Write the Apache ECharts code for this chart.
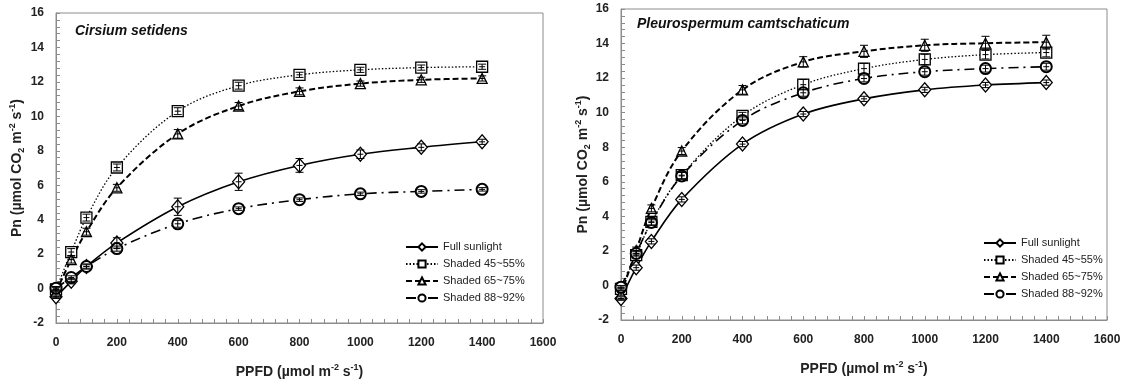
<!DOCTYPE html>
<html>
<head>
<meta charset="utf-8">
<script src="https://cdn.jsdelivr.net/npm/echarts@6/dist/echarts.min.js"></script>
<style>
  html, body { margin: 0; padding: 0; background: #fff; }
  #chart { width: 1127px; height: 387px; }
</style>
</head>
<body>
<div id="chart"></div>
<script>
const ppfd = [0, 50, 100, 200, 400, 600, 800, 1000, 1200, 1400];
const names = ['Full sunlight', 'Shaded 45~55%', 'Shaded 65~75%', 'Shaded 88~92%'];
const xTicks = [0, 200, 400, 600, 800, 1000, 1200, 1400, 1600];
const yTicks = [-2, 0, 2, 4, 6, 8, 10, 12, 14, 16];

// Cirsium setidens
const fullL = [-0.48, 0.42, 1.28, 2.65, 4.75, 6.2, 7.15, 7.8, 8.2, 8.52];
const s45L = [-0.05, 2.12, 4.12, 7.03, 10.3, 11.78, 12.41, 12.7, 12.83, 12.88];
const s65L = [-0.2, 1.68, 3.3, 5.85, 8.98, 10.6, 11.45, 11.9, 12.12, 12.2];
const s88L = [0.02, 0.64, 1.28, 2.32, 3.76, 4.64, 5.16, 5.5, 5.64, 5.76];
const fullErrL = [0.1, 0.15, 0.15, 0.3, 0.5, 0.5, 0.4, 0.25, 0.2, 0.15];
const s45ErrL = [0.1, 0.2, 0.2, 0.2, 0.2, 0.2, 0.15, 0.15, 0.15, 0.15];
const s65ErrL = [0.1, 0.2, 0.2, 0.2, 0.25, 0.2, 0.2, 0.15, 0.15, 0.15];
const s88ErrL = [0.1, 0.1, 0.1, 0.15, 0.2, 0.1, 0.1, 0.1, 0.1, 0.1];

// Pleurospermum camtschaticum
const fullR = [-0.76, 1.03, 2.55, 4.98, 8.18, 9.92, 10.8, 11.32, 11.6, 11.74];
const s45R = [-0.2, 1.75, 3.68, 6.38, 9.82, 11.62, 12.55, 13.08, 13.36, 13.48];
const s65R = [-0.5, 2.02, 4.46, 7.78, 11.32, 12.94, 13.55, 13.9, 14.02, 14.08];
const s88R = [-0.1, 1.85, 3.65, 6.34, 9.55, 11.15, 11.98, 12.37, 12.55, 12.66];
const fullErrR = [0.1, 0.15, 0.15, 0.15, 0.15, 0.15, 0.15, 0.15, 0.15, 0.15];
const s45ErrR = [0.1, 0.2, 0.2, 0.2, 0.2, 0.3, 0.3, 0.3, 0.25, 0.25];
const s65ErrR = [0.1, 0.2, 0.2, 0.2, 0.25, 0.3, 0.35, 0.35, 0.4, 0.4];
const s88ErrR = [0.1, 0.15, 0.15, 0.2, 0.2, 0.2, 0.2, 0.2, 0.2, 0.2];

const FONT = '"Liberation Sans", Arial, sans-serif';
const NARROW = '"Liberation Sans Narrow", "Arial Narrow", "Liberation Sans", sans-serif';

const styles = [
  { symbol: 'diamond', symbolSize: [12, 14], line: { type: 'solid', width: 1.6 } },
  { symbol: 'rect', symbolSize: 11, line: { type: [1.5, 2], width: 1.3 } },
  { symbol: 'triangle', symbolSize: 10, line: { type: [6, 3], width: 2 } },
  { symbol: 'circle', symbolSize: 11, line: { type: [10, 5, 2, 5], width: 1.6 } },
];

function lineSeries(i, data, gi) {
  const s = styles[i];
  return {
    name: names[i],
    type: 'line',
    xAxisIndex: gi,
    yAxisIndex: gi,
    data: ppfd.map((x, k) => [x, data[k]]),
    smooth: 0.35,
    symbol: s.symbol,
    symbolSize: s.symbolSize,
    showAllSymbol: true,
    lineStyle: { color: '#000', type: s.line.type, width: s.line.width },
    itemStyle: { color: '#fff', borderColor: '#000', borderWidth: i === 3 ? 2 : 1.3 },
    z: 3,
  };
}

function errSeries(data, err, gi, tag) {
  return {
    name: 'err-' + tag,
    type: 'custom',
    xAxisIndex: gi,
    yAxisIndex: gi,
    z: 5,
    data: ppfd.map((x, k) => [x, data[k], err[k]]),
    renderItem: function (params, api) {
      const x = api.value(0), y = api.value(1), e = api.value(2);
      const top = api.coord([x, y + e]);
      const bot = api.coord([x, y - e]);
      const c = api.coord([x, y]);
      const st = { stroke: '#000', lineWidth: 1 };
      return {
        type: 'group',
        children: [
          { type: 'line', shape: { x1: top[0], y1: top[1], x2: bot[0], y2: bot[1] }, style: st },
          { type: 'line', shape: { x1: top[0] - 4, y1: top[1], x2: top[0] + 4, y2: top[1] }, style: st },
          { type: 'line', shape: { x1: bot[0] - 4, y1: bot[1], x2: bot[0] + 4, y2: bot[1] }, style: st },
          { type: 'line', shape: { x1: c[0] - 3, y1: c[1], x2: c[0] + 3, y2: c[1] }, style: st },
        ],
      };
    },
  };
}

const richName = {
  b: { fontFamily: FONT, fontWeight: 'bold', fontSize: 14, color: '#222', lineHeight: 18 },
  sup: { fontFamily: FONT, fontWeight: 'bold', fontSize: 9, color: '#222', verticalAlign: 'top', lineHeight: 18 },
  sub: { fontFamily: FONT, fontWeight: 'bold', fontSize: 9, color: '#222', verticalAlign: 'bottom', lineHeight: 14 },
};

const xName = '{b|PPFD (µmol m}{sup|-2}{b| s}{sup|-1}{b|)}';
const yName = '{b|Pn (µmol CO}{sub|2}{b| m}{sup|-2}{b| s}{sup|-1}{b|)}';

function xAxis(gi) {
  return {
    type: 'value',
    gridIndex: gi,
    min: xTicks[0],
    max: xTicks[xTicks.length - 1],
    interval: xTicks[1] - xTicks[0],
    name: xName,
    nameLocation: 'middle',
    nameGap: 40,
    nameTextStyle: { rich: richName },
    axisLine: { onZero: false, lineStyle: { color: '#8c8c8c', width: 1 } },
    axisTick: { inside: true, length: 4, lineStyle: { color: '#8c8c8c' } },
    minorTick: { show: true, splitNumber: 5, length: 4, lineStyle: { color: '#8c8c8c' } },
    axisLabel: { fontFamily: FONT, fontWeight: 'bold', fontSize: 12, color: '#222', margin: 14,
      formatter: (v) => String(v) },
    splitLine: { show: false },
  };
}

function yAxis(gi, gap) {
  return {
    type: 'value',
    gridIndex: gi,
    min: yTicks[0],
    max: yTicks[yTicks.length - 1],
    interval: yTicks[1] - yTicks[0],
    name: yName,
    nameLocation: 'middle',
    nameGap: gap,
    nameTextStyle: { rich: richName },
    axisLine: { onZero: false, lineStyle: { color: '#8c8c8c', width: 1 } },
    axisTick: { inside: true, length: 4, lineStyle: { color: '#8c8c8c' } },
    minorTick: { show: true, splitNumber: 5, length: 4, lineStyle: { color: '#8c8c8c' } },
    axisLabel: { fontFamily: FONT, fontWeight: 'bold', fontSize: 12, color: '#222', margin: 12 },
    splitLine: { show: false },
  };
}

function legend(left, top) {
  return {
    orient: 'vertical',
    left: left,
    top: top,
    data: names,
    itemWidth: 32,
    itemHeight: 9,
    itemGap: 3,
    padding: 0,
    textStyle: { fontFamily: NARROW, fontSize: 11, color: '#222', lineHeight: 14 },
    selectedMode: false,
  };
}

const chart = echarts.init(document.getElementById('chart'), null, { renderer: 'canvas' });
chart.setOption({
  animation: false,
  backgroundColor: '#fff',
  title: [
    { text: 'Cirsium setidens', left: 75, top: 24, padding: 0,
      textStyle: { fontFamily: FONT, fontStyle: 'italic', fontWeight: 'bold', fontSize: 14, color: '#111' } },
    { text: 'Pleurospermum camtschaticum', left: 637, top: 17, padding: 0,
      textStyle: { fontFamily: FONT, fontStyle: 'italic', fontWeight: 'bold', fontSize: 14, color: '#111' } },
  ],
  grid: [
    { left: 56, top: 13, width: 487, height: 310, show: true, borderColor: '#8c8c8c', borderWidth: 1, backgroundColor: '#fff' },
    { left: 621, top: 9, width: 486, height: 311, show: true, borderColor: '#8c8c8c', borderWidth: 1, backgroundColor: '#fff' },
  ],
  xAxis: [xAxis(0), xAxis(1)],
  yAxis: [yAxis(0, 30), yAxis(1, 25)],
  legend: [legend(405, 240), legend(983, 236)],
  series: [
    lineSeries(0, fullL, 0), lineSeries(1, s45L, 0), lineSeries(2, s65L, 0), lineSeries(3, s88L, 0),
    lineSeries(0, fullR, 1), lineSeries(1, s45R, 1), lineSeries(2, s65R, 1), lineSeries(3, s88R, 1),
    errSeries(fullL, fullErrL, 0, 'fl'), errSeries(s45L, s45ErrL, 0, 'al'),
    errSeries(s65L, s65ErrL, 0, 'bl'), errSeries(s88L, s88ErrL, 0, 'cl'),
    errSeries(fullR, fullErrR, 1, 'fr'), errSeries(s45R, s45ErrR, 1, 'ar'),
    errSeries(s65R, s65ErrR, 1, 'br'), errSeries(s88R, s88ErrR, 1, 'cr'),
  ],
});
</script>
</body>
</html>
